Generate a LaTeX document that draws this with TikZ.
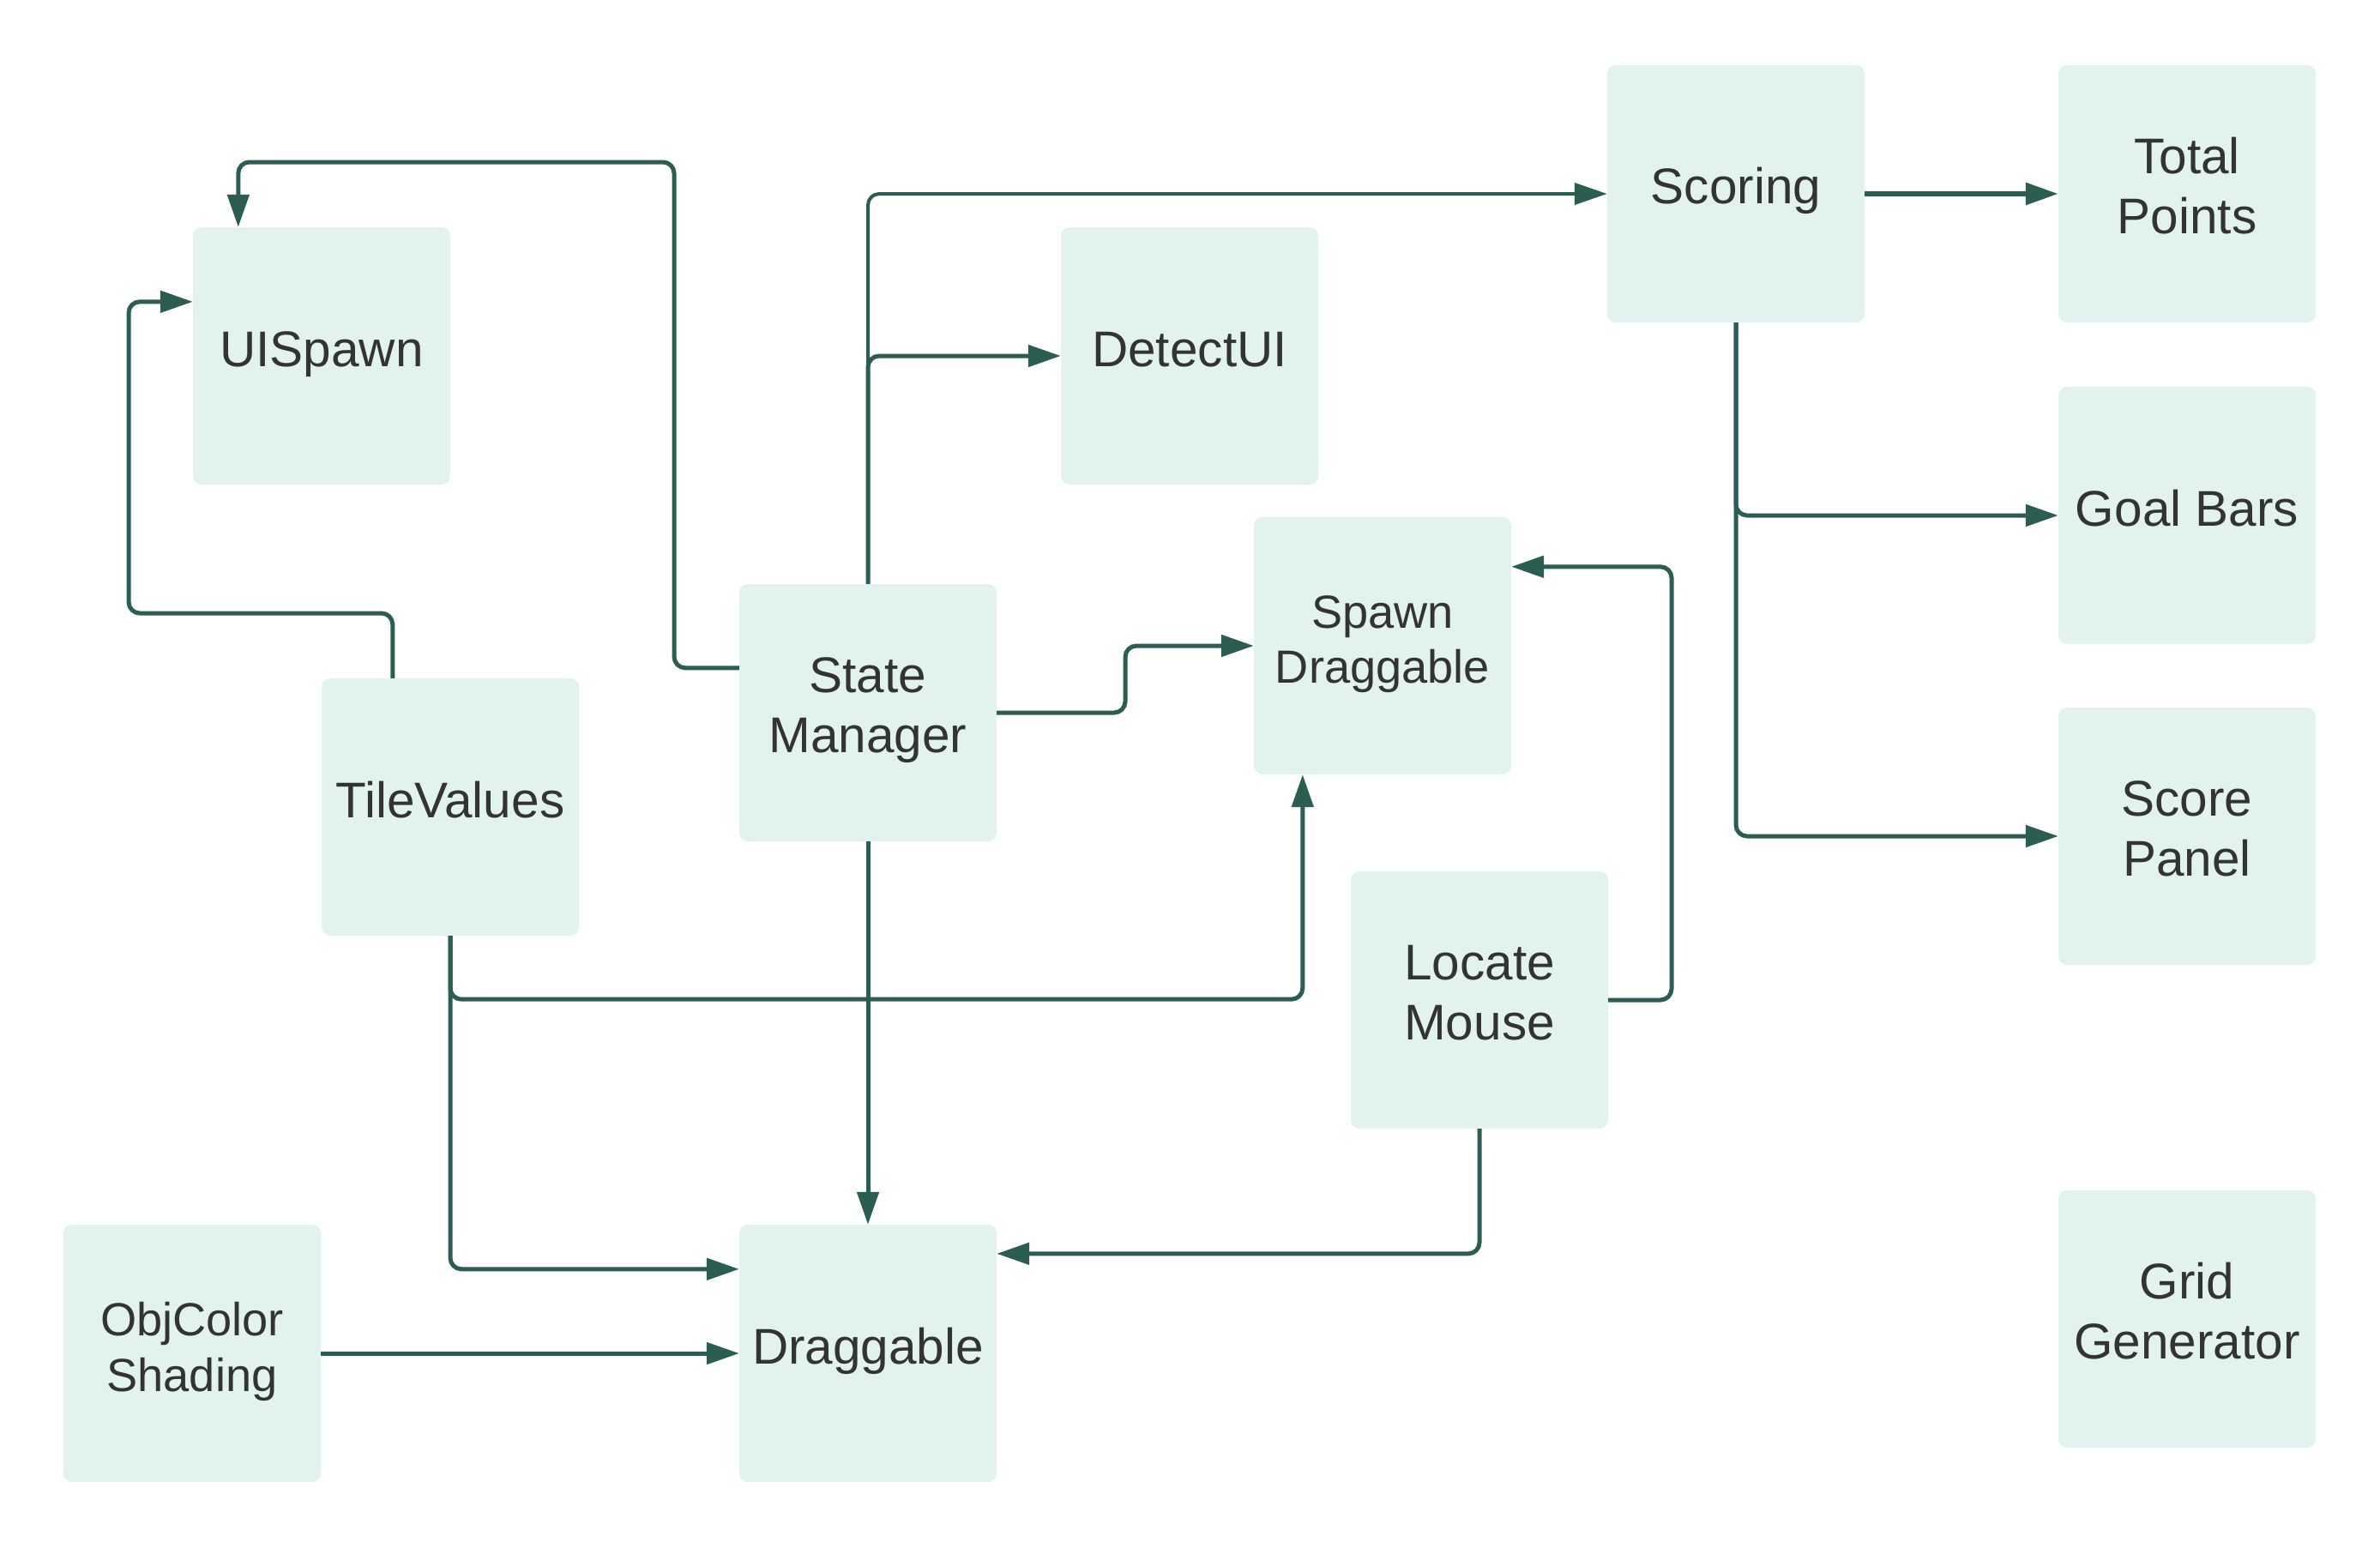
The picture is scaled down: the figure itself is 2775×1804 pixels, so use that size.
\documentclass[tikz,border=0pt]{standalone}
\usepackage{fontspec}
\setmainfont{Liberation Sans}
\usetikzlibrary{arrows.meta,calc}
\definecolor{boxfill}{HTML}{E2F2EE}
\definecolor{linec}{HTML}{2B5D52}
\definecolor{textc}{HTML}{333333}
\newcommand\twol[3]{\vbox{\baselineskip=#3pt\lineskiplimit=-1000pt\lineskip=0pt\halign{\hfil##\hfil\cr#1\cr#2\cr}}}
\tikzset{
  blk/.style={rectangle, fill=boxfill, draw=none, rounded corners=10pt,
    minimum width=300pt, minimum height=300pt, inner sep=0pt},
  txt/.style={anchor=base, inner sep=0pt, text=textc, font=\fontsize{58.5pt}{70pt}\selectfont},
  stxt/.style={anchor=base, inner sep=0pt, text=textc, font=\fontsize{54.2pt}{64pt}\selectfont},
  conn/.style={draw=linec, line width=5pt, rounded corners=13pt,
    -{Triangle[length=38pt,width=25pt]}},
}
\begin{document}
\begin{tikzpicture}[x=1pt,y=-1pt]
\useasboundingbox (0,0) rectangle (2775,1804);
% boxes
\node[blk] (ui) at (375,415) {};
\node[blk] (du) at (1387,415) {};
\node[blk] (sc) at (2024,226) {};
\node[blk] (tp) at (2550,226) {};
\node[blk] (gb) at (2550,601) {};
\node[blk] (sp) at (2550,975) {};
\node[blk] (sd) at (1612,753) {};
\node[blk] (sm) at (1012,831) {};
\node[blk] (tv) at (525,941) {};
\node[blk] (lm) at (1725,1166) {};
\node[blk] (oc) at (224,1578) {};
\node[blk] (dr) at (1012,1578) {};
\node[blk] (gg) at (2550,1538) {};
% labels
\node[txt] (uit) at ($(ui.center)+(0,12)$) {UISpawn};
\node[txt] (dut) at ($(du.center)+(0,12)$) {DetectUI};
\node[txt] (sct) at ($(sc.center)+(0,11)$) {Scoring};
\node[txt] (tpt) at ($(tp.center)+(0,46)$) {\twol{Total}{Points}{70}};
\node[txt] (gbt) at ($(gb.center)+(0,12)$) {Goal Bars};
\node[txt] (spt) at ($(sp.center)+(0,46)$) {\twol{Score}{Panel}{70}};
\node[stxt] (sdt) at ($(sd.center)+(0,43)$) {\twol{Spawn}{Draggable}{64}};
\node[txt] (smt) at ($(sm.center)+(0,46)$) {\twol{State}{Manager}{70}};
\node[txt] (tvt) at ($(tv.center)+(0,12)$) {TileValues};
\node[txt] (lmt) at ($(lm.center)+(0,46)$) {\twol{Locate}{Mouse}{70}};
\node[stxt] (oct) at ($(oc.center)+(0,44)$) {\twol{ObjColor}{Shading}{65}};
\node[txt] (drt) at ($(dr.center)+(0,12)$) {Draggable};
\node[txt] (ggt) at ($(gg.center)+(0,46)$) {\twol{Grid}{Generator}{70}};
% connectors
\draw[conn] ($(sm.north west)+(0,98)$) -| (786,189) -| ($(ui.north west)+(53,0)$);
\draw[conn] ($(tv.north west)+(83,0)$) |- (150,715) |- ($(ui.north west)+(0,87)$);
\draw[conn, line width=4pt] (sm.north) |- (sc.west);
\draw[conn] (sm.north) |- (du.west);
\draw[conn] (sm.east) -| ($(sm.east)!.5!(sd.west)$) |- (sd.west);
\draw[conn] (sm.south) -- (dr.north);
\draw[conn] (tv.south) |- ($(sd.south west)+(57,262)$) -- ($(sd.south west)+(57,0)$);
\draw[conn] (tv.south) |- ($(dr.north west)+(0,52)$);
\draw[conn] (lm.east) -- (1949,1166) |- ($(sd.north east)+(0,58)$);
\draw[conn] (lm.south) |- ($(dr.north east)+(0,34)$);
\draw[conn] (oc.east) -- (dr.west);
\draw[conn, line width=6pt] (sc.east) -- (tp.west);
\draw[conn] (sc.south) |- (gb.west);
\draw[conn] (sc.south) |- (sp.west);
\end{tikzpicture}
\end{document}
